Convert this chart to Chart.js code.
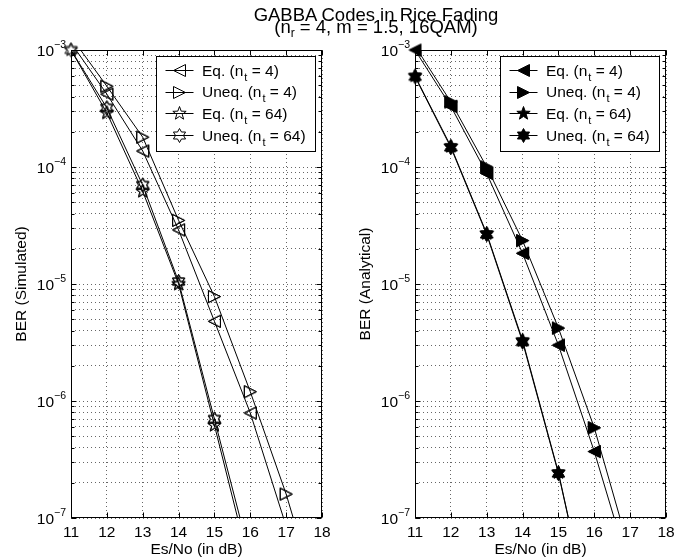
<!DOCTYPE html>
<html>
<head>
<meta charset="utf-8">
<script src="https://cdn.jsdelivr.net/npm/chart.js@4.4.1/dist/chart.umd.min.js"></script>
<style>
  html, body { margin: 0; padding: 0; background: #fff; }
  body { width: 696px; height: 560px; position: relative; overflow: hidden;
         font-family: "Liberation Sans", Arial, Helvetica, sans-serif; }
  #title { position: absolute; left: 0; top: 9px; width: 752px; text-align: center;
           font-size: 18.5px; line-height: 12px; color: #000; z-index: 2; }
  #title sub { font-size: 12px; vertical-align: -4px; line-height: 0; }
  .panel { position: absolute; top: 0; width: 348px; height: 560px; }
</style>
</head>
<body>
<div id="title">GABBA Codes in Rice Fading<br>(n<sub>r</sub> = 4, m = 1.5, 16QAM)</div>
<div class="panel" style="left:0"><canvas id="simChart" width="348" height="560"></canvas></div>
<div class="panel" style="left:348px"><canvas id="anaChart" width="348" height="560"></canvas></div>
<script>
// Es/No grid (dB) shared by every curve
const esNo = [11, 12, 13, 14, 15, 16, 17, 18];

// BER from simulation
const simEq4    = [1.15e-3, 4.2e-4, 1.37e-4, 2.9e-5, 4.8e-6, 7.9e-7, 8.5e-8, null];
const simUneq4  = [1.3e-3, 4.9e-4, 1.8e-4, 3.5e-5, 7.8e-6, 1.2e-6, 1.6e-7, 1.5e-8];
const simEq64   = [1.0e-3, 2.9e-4, 6.2e-5, 1.0e-5, 6.2e-7, 3.7e-8, null, null];
const simUneq64 = [1.0e-3, 3.2e-4, 7.0e-5, 1.05e-5, 7.0e-7, 4.6e-8, null, null];

// BER from the analytical expression
const anaEq4    = [1.0e-3, 3.3e-4, 8.8e-5, 1.83e-5, 3.0e-6, 3.7e-7, 3.5e-8, null];
const anaUneq4  = [1.08e-3, 3.6e-4, 1.0e-4, 2.35e-5, 4.2e-6, 5.9e-7, 5.0e-8, null];
const anaEq64   = [6.0e-4, 1.5e-4, 2.7e-5, 3.3e-6, 2.45e-7, 1.0e-8, null, null];
const anaUneq64 = [5.9e-4, 1.47e-4, 2.65e-5, 3.2e-6, 2.4e-7, 1.0e-8, null, null];

const seriesNames = ['Eq. (n_t = 4)', 'Uneq. (n_t = 4)', 'Eq. (n_t = 64)', 'Uneq. (n_t = 64)'];
const xTicks = [11, 12, 13, 14, 15, 16, 17, 18];
const decades = [-7, -6, -5, -4, -3];

const FONT = '"Liberation Sans", Arial, Helvetica, sans-serif';
const LABEL_PX = 15.5;
const Y_MIN = 1e-7, Y_MAX = 1e-3;

// marker bitmaps: triangles and stars, open or filled
function starPoints(n, outer, inner) {
  const pts = [];
  for (let k = 0; k < 2 * n; k++) {
    const r = k % 2 ? inner : outer;
    const a = -Math.PI / 2 + k * Math.PI / n;
    pts.push([r * Math.cos(a), r * Math.sin(a)]);
  }
  return pts;
}
function markerCanvas(shape, filled) {
  const size = 19;
  const c = document.createElement('canvas');
  c.width = c.height = size;
  const g = c.getContext('2d');
  g.translate(size / 2, size / 2);
  let pts;
  if (shape === 'left') pts = [[-6, 0], [6, -6], [6, 6]];
  else if (shape === 'right') pts = [[6, 0], [-6, -6], [-6, 6]];
  else if (shape === 'penta') pts = starPoints(5, 7, 2.9);
  else pts = starPoints(6, 7, 4.0);
  g.beginPath();
  pts.forEach((p, i) => i ? g.lineTo(p[0], p[1]) : g.moveTo(p[0], p[1]));
  g.closePath();
  g.lineWidth = 1;
  g.strokeStyle = '#000';
  if (filled) { g.fillStyle = '#000'; g.fill(); }
  g.stroke();
  return c;
}

function inRange(v) {
  return v != null && v >= Y_MIN * (1 - 1e-9) && v <= Y_MAX * (1 + 1e-9);
}

function makeDataset(label, values, marker) {
  return {
    label: label,
    data: esNo.map((x, i) => ({ x: x, y: values[i] })),
    borderColor: '#000',
    borderWidth: 1,
    backgroundColor: '#000',
    pointStyle: marker,
    pointRadius: ctx => inRange(ctx.raw && ctx.raw.y) ? 6 : 0,
    pointHoverRadius: 6,
    tension: 0,
    spanGaps: false
  };
}

// draws "text_s rest" with a lowered subscript
function drawSubText(ctx, str, x, y, size) {
  const parts = str.split('_');
  ctx.textAlign = 'left';
  ctx.textBaseline = 'alphabetic';
  ctx.font = size + 'px ' + FONT;
  ctx.fillText(parts[0], x, y);
  x += ctx.measureText(parts[0]).width;
  if (parts.length > 1) {
    const sub = parts[1].charAt(0), rest = parts[1].slice(1);
    ctx.font = Math.round(size * 0.73) + 'px ' + FONT;
    ctx.fillText(sub, x + 1, y + 5);
    x += ctx.measureText(sub).width + 1;
    ctx.font = size + 'px ' + FONT;
    ctx.fillText(rest, x, y);
  }
}

const matlabAxes = {
  id: 'matlabAxes',
  afterDatasetsDraw(chart) {
    // stamp markers again without the plot clip so corner markers stay whole
    const far = { left: -1e4, top: -1e4, right: 1e4, bottom: 1e4 };
    chart.data.datasets.forEach((ds, i) => {
      chart.getDatasetMeta(i).data.forEach(pt => pt.draw(chart.ctx, far));
    });
  },
  afterDraw(chart, args, opts) {
    const ctx = chart.ctx;
    const a = chart.chartArea;
    const xs = chart.scales.x, ys = chart.scales.y;
    const L = Math.round(a.left) + 0.5, R = Math.round(a.right) - 0.5;
    const T = Math.round(a.top) + 0.5, B = Math.round(a.bottom) - 0.5;
    ctx.save();
    ctx.strokeStyle = '#000';
    ctx.fillStyle = '#000';
    ctx.lineWidth = 1;

    // axes box
    ctx.strokeRect(L, T, R - L, B - T);

    // tick marks on all four sides
    ctx.beginPath();
    xTicks.forEach(v => {
      const px = Math.round(xs.getPixelForValue(v)) + 0.5;
      ctx.moveTo(px, B); ctx.lineTo(px, B - 5);
      ctx.moveTo(px, T); ctx.lineTo(px, T + 5);
    });
    decades.forEach(e => {
      for (let k = 1; k <= 9; k++) {
        const v = k * Math.pow(10, e);
        if (v > Y_MAX * 1.0001) break;
        const py = Math.round(ys.getPixelForValue(v)) + 0.5;
        const len = k === 1 ? 5 : 3;
        ctx.moveTo(L, py); ctx.lineTo(L + len, py);
        ctx.moveTo(R, py); ctx.lineTo(R - len, py);
      }
    });
    ctx.stroke();

    // x tick labels
    ctx.font = LABEL_PX + 'px ' + FONT;
    ctx.textAlign = 'center';
    ctx.textBaseline = 'alphabetic';
    xTicks.forEach(v => ctx.fillText(String(v), xs.getPixelForValue(v), a.bottom + 19));

    // y tick labels as 10 with a raised exponent
    decades.forEach(e => {
      const py = ys.getPixelForValue(Math.pow(10, e));
      ctx.font = LABEL_PX + 'px ' + FONT;
      ctx.textAlign = 'right';
      ctx.fillText('10', a.left - 17, py + 5.5);
      ctx.font = '10.5px ' + FONT;
      ctx.textAlign = 'left';
      ctx.fillText('\u2212' + Math.abs(e), a.left - 17, py - 2);
    });

    // axis titles
    ctx.font = LABEL_PX + 'px ' + FONT;
    ctx.textAlign = 'center';
    ctx.fillText('Es/No (in dB)', (a.left + a.right) / 2, a.bottom + 36);
    ctx.save();
    ctx.translate(a.left - 49.5, (a.top + a.bottom) / 2);
    ctx.rotate(-Math.PI / 2);
    ctx.textBaseline = 'middle';
    ctx.fillText(opts.yTitle, 0, 0);
    ctx.restore();

    // legend box
    const lx = Math.round(a.left + 85) + 0.5, ly = 56.5, lw = 159, lh = 95;
    ctx.fillStyle = '#fff';
    ctx.fillRect(lx, ly, lw, lh);
    ctx.strokeRect(lx, ly, lw, lh);
    ctx.fillStyle = '#000';
    chart.data.datasets.forEach((ds, i) => {
      const cy = ly + 13.5 + i * 21.7;
      ctx.beginPath();
      ctx.moveTo(lx + 9, Math.round(cy) + 0.5);
      ctx.lineTo(lx + 37, Math.round(cy) + 0.5);
      ctx.stroke();
      const m = ds.pointStyle;
      ctx.drawImage(m, lx + 23 - m.width / 2, Math.round(cy) + 0.5 - m.height / 2);
      drawSubText(ctx, ds.label, lx + 45.5, cy + 5.5, LABEL_PX);
    });
    ctx.restore();
  }
};

function makeChart(id, series, filled, yTitle, pad) {
  const shapes = ['left', 'right', 'penta', 'hexa'];
  return new Chart(document.getElementById(id), {
    type: 'line',
    data: {
      datasets: series.map((vals, i) => makeDataset(seriesNames[i], vals, markerCanvas(shapes[i], filled)))
    },
    options: {
      responsive: false,
      animation: false,
      events: [],
      layout: { padding: pad },
      plugins: {
        legend: { display: false },
        tooltip: { enabled: false },
        matlabAxes: { yTitle: yTitle }
      },
      scales: {
        x: {
          type: 'linear', min: 11, max: 18,
          ticks: { display: false, stepSize: 1, padding: 0 },
          grid: { color: 'rgba(0,0,0,0.6)', lineWidth: 1, drawTicks: false },
          border: { display: false, dash: [1, 3] }
        },
        y: {
          type: 'logarithmic', min: Y_MIN, max: Y_MAX,
          ticks: { display: false, padding: 0 },
          afterBuildTicks: scale => {
            const t = [];
            decades.forEach(e => {
              for (let k = 1; k <= 9; k++) {
                const v = k * Math.pow(10, e);
                if (v <= Y_MAX * 1.0001) t.push({ value: v });
              }
            });
            scale.ticks = t;
          },
          grid: { color: 'rgba(0,0,0,0.6)', lineWidth: 1, drawTicks: false },
          border: { display: false, dash: [1, 3] }
        }
      }
    },
    plugins: [matlabAxes]
  });
}

makeChart('simChart', [simEq4, simUneq4, simEq64, simUneq64], false, 'BER (Simulated)',
  { left: 71, right: 26, top: 50, bottom: 42 });
makeChart('anaChart', [anaEq4, anaUneq4, anaEq64, anaUneq64], true, 'BER (Analytical)',
  { left: 67, right: 30, top: 50, bottom: 42 });
</script>
</body>
</html>
